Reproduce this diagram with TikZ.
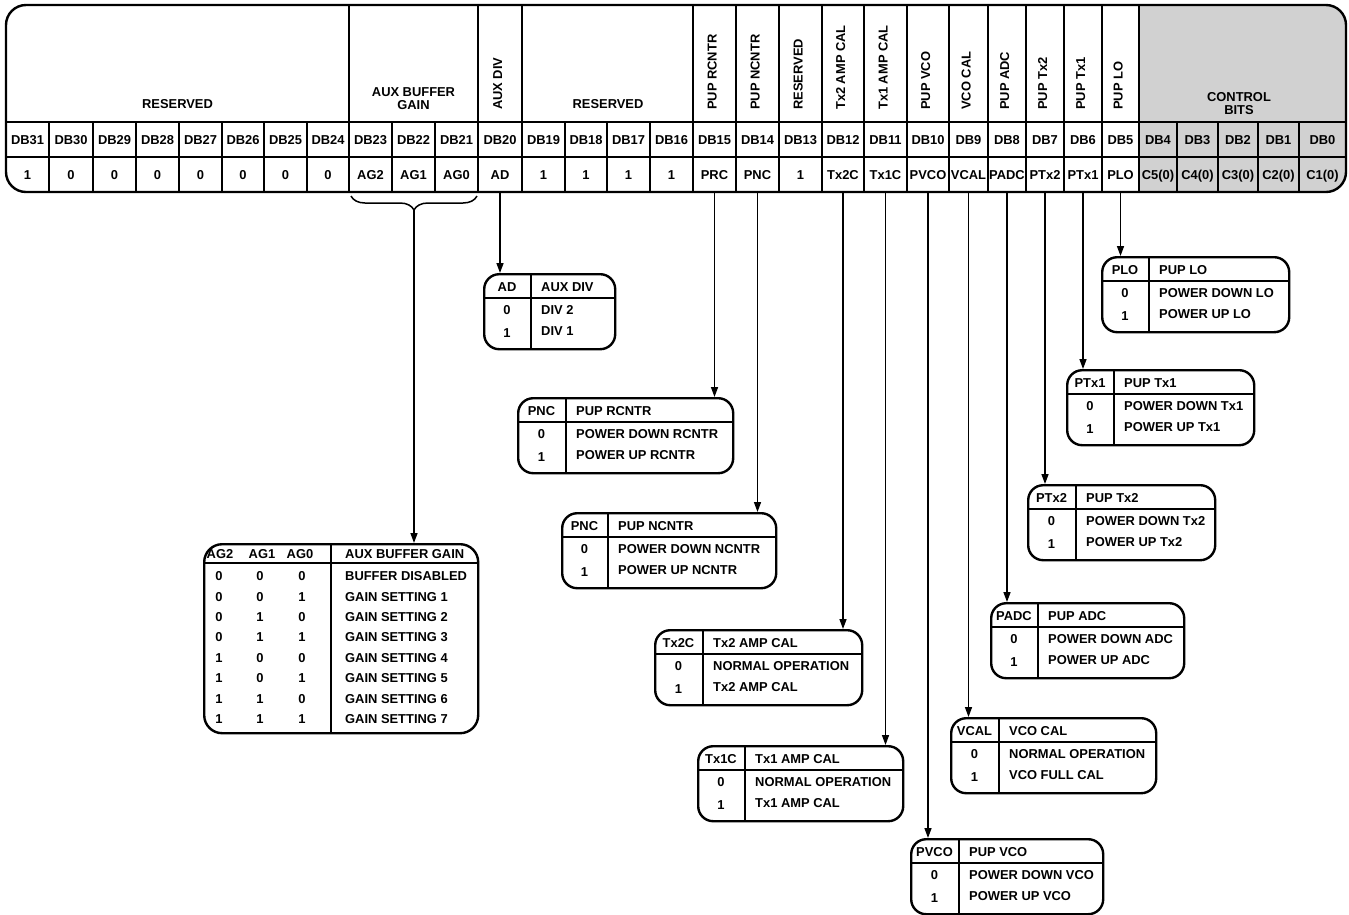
\documentclass[tikz,border=0pt]{standalone}
\usepackage{fontspec}
\setmainfont{Liberation Sans}
\usetikzlibrary{arrows.meta,decorations.pathreplacing}
\definecolor{grisctrl}{gray}{0.82}
\tikzset{
  texto/.style={font=\fontsize{12.9}{13.5}\selectfont\bfseries, inner sep=0pt, text height=9.2pt, text depth=0pt},
  rotulo/.style={font=\fontsize{12.9}{13.5}\selectfont\bfseries, inner sep=0pt, align=center},
  celda/.style={texto, minimum height=35pt},
  rejilla/.style={line width=1.5pt},
  division/.style={line width=1.8pt},
  marco/.style={line width=2.4pt, rounded corners=20pt},
  tabla/.style={draw, line width=2.4pt, rounded corners=15pt, minimum height=75pt, inner sep=0pt},
  flecha/.style={line width=1.5pt, -{Triangle[length=10pt,width=7pt]}},
}
% tabla de un bit: nombre, izq, arriba, der, division, codigo, titulo, fila 0, fila 1
\newcommand{\tablabit}[9]{%
  \node[tabla, anchor=north west, minimum width={#4-#2}] (#1) at (#2,#3) {};
  \draw[division] (#5,#3) -- (#5,#3+75);
  \draw[division] (#2,#3+25) -- (#4,#3+25);
  \node[texto] (#1-cod) at ({(#2+#5)/2},#3+13.5) {#6};
  \node[texto, anchor=west] (#1-tit) at (#5+10,#3+13.5) {#7};
  \node[texto] (#1-c0) at ({(#2+#5)/2},#3+37) {0};
  \node[texto, anchor=west] (#1-f0) at (#5+10,#3+37) {#8};
  \node[texto] (#1-c1) at ({(#2+#5)/2},#3+60) {1};
  \node[texto, anchor=west] (#1-f1) at (#5+10,#3+58) {#9};
}
\begin{document}
\begin{tikzpicture}[x=1pt, y=-1pt]
  \useasboundingbox (0,0) rectangle (1349,914);

  % Fondo gris de los bits de control
  \begin{scope}
    \clip[rounded corners=20pt] (6,5) rectangle (1346,192);
    \fill[grisctrl] (1139,5) rectangle (1346,192);
  \end{scope}

  % Filas del registro
  \draw[rejilla] (6,122) -- (1346,122);
  \draw[rejilla] (6,157) -- (1346,157);

  % Separadores de la cabecera
  \foreach \x in {349,478,522,693,736,779,822,864,907,949,988,1026,1064,1102,1139}
    \draw[rejilla] (\x,5) -- (\x,122);

  % Celdas DBn y sus valores
  \foreach \bit/\xl/\xr/\val in {31/6/49/1, 30/49/93/0, 29/93/136/0, 28/136/179/0,
      27/179/222/0, 26/222/264/0, 25/264/307/0, 24/307/349/0, 23/349/392/AG2,
      22/392/435/AG1, 21/435/478/AG0, 20/478/522/AD, 19/522/565/1, 18/565/607/1,
      17/607/650/1, 16/650/693/1, 15/693/736/PRC, 14/736/779/PNC, 13/779/822/1,
      12/822/864/Tx2C, 11/864/907/Tx1C, 10/907/949/PVCO, 9/949/988/VCAL,
      8/988/1026/PADC, 7/1026/1064/PTx2, 6/1064/1102/PTx1, 5/1102/1139/PLO,
      4/1139/1177/{C5(0)}, 3/1177/1218/{C4(0)}, 2/1218/1258/{C3(0)},
      1/1258/1299/{C2(0)}, 0/1299/1346/{C1(0)}}{
    \node[celda, minimum width={\xr-\xl}] (db\bit) at ({(\xl+\xr)/2},139.5) {DB\bit};
    \node[celda, minimum width={\xr-\xl}] (v\bit) at ({(\xl+\xr)/2},174.5) {\val};
    \ifnum\bit<31 \draw[rejilla] (\xl,122) -- (\xl,192); \fi
  }

  % Marco exterior
  \draw[marco] (6,5) rectangle (1346,192);

  % Rotulos de cabecera
  \node[rotulo] (resalto) at (177.5,104) {RESERVED};
  \node[rotulo] (auxbuf) at (413.5,98.5) {AUX BUFFER\\GAIN};
  \node[rotulo] (resbajo) at (608,104) {RESERVED};
  \node[rotulo] (control) at (1239,103.5) {CONTROL\\BITS};
  \foreach \bit/\x/\t in {20/500/AUX DIV, 15/714.5/PUP RCNTR, 14/757.5/PUP NCNTR,
      13/800.5/RESERVED, 12/843/Tx2 AMP CAL, 11/885.5/Tx1 AMP CAL, 10/928/PUP VCO,
      9/968.5/VCO CAL, 8/1007/PUP ADC, 7/1045/PUP Tx2, 6/1083/PUP Tx1, 5/1120.5/PUP LO}
    \node[texto, rotate=90, anchor=west] (rot\bit) at (\x-2.5,110) {\t};

  % Llave bajo AG2..AG0
  \draw[rejilla, decorate, decoration={brace, mirror, amplitude=14pt}] (351,196) -- (477,196);
  \coordinate (llave) at (414,210);

  % Tablas de un bit
  \tablabit{tabAD}{483}{273}{614}{531}{AD}{AUX DIV}{DIV 2}{DIV 1}
  \tablabit{tabPRC}{517}{397}{732}{566}{PNC}{PUP RCNTR}{POWER DOWN RCNTR}{POWER UP RCNTR}
  \tablabit{tabPNC}{561}{512}{775}{608}{PNC}{PUP NCNTR}{POWER DOWN NCNTR}{POWER UP NCNTR}
  \tablabit{tabTxdos}{654}{629}{861}{703}{Tx2C}{Tx2 AMP CAL}{NORMAL OPERATION}{Tx2 AMP CAL}
  \tablabit{tabTxuno}{697}{745}{902}{745}{Tx1C}{Tx1 AMP CAL}{NORMAL OPERATION}{Tx1 AMP CAL}
  \tablabit{tabPLO}{1101}{256}{1288}{1149}{PLO}{PUP LO}{POWER DOWN LO}{POWER UP LO}
  \tablabit{tabPTxuno}{1066}{369}{1253}{1114}{PTx1}{PUP Tx1}{POWER DOWN Tx1}{POWER UP Tx1}
  \tablabit{tabPTxdos}{1027}{484}{1214}{1076}{PTx2}{PUP Tx2}{POWER DOWN Tx2}{POWER UP Tx2}
  \tablabit{tabPADC}{990}{602}{1183}{1038}{PADC}{PUP ADC}{POWER DOWN ADC}{POWER UP ADC}
  \tablabit{tabVCAL}{950}{717}{1155}{999}{VCAL}{VCO CAL}{NORMAL OPERATION}{VCO FULL CAL}
  \tablabit{tabPVCO}{910}{838}{1102}{959}{PVCO}{PUP VCO}{POWER DOWN VCO}{POWER UP VCO}

  % Tabla AUX BUFFER GAIN
  \node[tabla, anchor=north west, minimum width=274, minimum height=189, rounded corners=18pt] (tabAG) at (203,543) {};
  \draw[division] (331,543) -- (331,732);
  \draw[division] (203,563) -- (477,563);
  \node[texto] (agdos) at (220,554) {AG2};
  \node[texto] (aguno) at (262,554) {AG1};
  \node[texto] (agcero) at (300,554) {AG0};
  \node[texto, anchor=west] (agtit) at (345,554) {AUX BUFFER GAIN};
  \foreach \p/\q/\s/\t [count=\i from 0] in {0/0/0/BUFFER DISABLED, 0/0/1/GAIN SETTING 1,
      0/1/0/GAIN SETTING 2, 0/1/1/GAIN SETTING 3, 1/0/0/GAIN SETTING 4,
      1/0/1/GAIN SETTING 5, 1/1/0/GAIN SETTING 6, 1/1/1/GAIN SETTING 7}{
    \node[texto] (agp\i) at (219,576+20.4*\i) {\p};
    \node[texto] (agq\i) at (260,576+20.4*\i) {\q};
    \node[texto] (ags\i) at (302,576+20.4*\i) {\s};
    \node[texto, anchor=west] (agt\i) at (345,576+20.4*\i) {\t};
  }

  % Flechas hacia las tablas
  \draw[flecha] (llave) -- (llave |- tabAG.north);
  \foreach \bit/\t in {20/tabAD, 15/tabPRC, 14/tabPNC, 12/tabTxdos, 11/tabTxuno,
      10/tabPVCO, 9/tabVCAL, 8/tabPADC, 7/tabPTxdos, 6/tabPTxuno, 5/tabPLO}
    \draw[flecha] (v\bit.south) -- (v\bit.south |- \t.north);
\end{tikzpicture}
\end{document}
